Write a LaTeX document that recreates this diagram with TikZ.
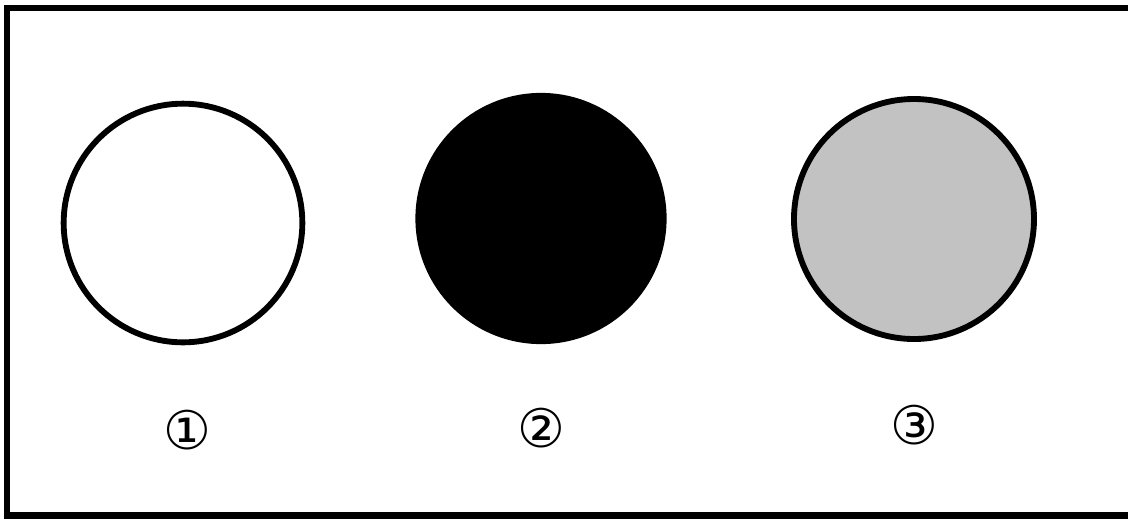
\documentclass[tikz,border=0pt]{standalone}
\usepackage{fontspec}
\newfontfamily\symfont{DejaVu Sans}
\usepackage{tikz}
\usetikzlibrary{positioning}

\begin{document}
\begin{tikzpicture}[x=0.75pt,y=-0.75pt,
  disc/.style={circle,draw=black,line width=4.4pt,inner sep=0pt},
  numlabel/.style={font=\symfont\fontsize{40}{48}\selectfont,inner sep=0pt}]
\useasboundingbox (0,0) rectangle (1128,519);
% outer frame
\draw[line width=4.8pt] (1140,8) -- (7,8) -- (7,515.5) -- (1140,515.5);
% the three discs
\node[disc,fill=white,minimum size=179pt] (c1) at (183,223) {};
\node[disc,fill=black,minimum size=184pt] (c2) at (541,218.5) {};
\node[disc,fill=black!24,minimum size=180pt] (c3) at (914,219) {};
% labels
\node[numlabel] (l1) at (187,430) {①};
\node[numlabel] (l2) at (541,428) {②};
\node[numlabel] (l3) at (914,425) {③};
\end{tikzpicture}
\end{document}
